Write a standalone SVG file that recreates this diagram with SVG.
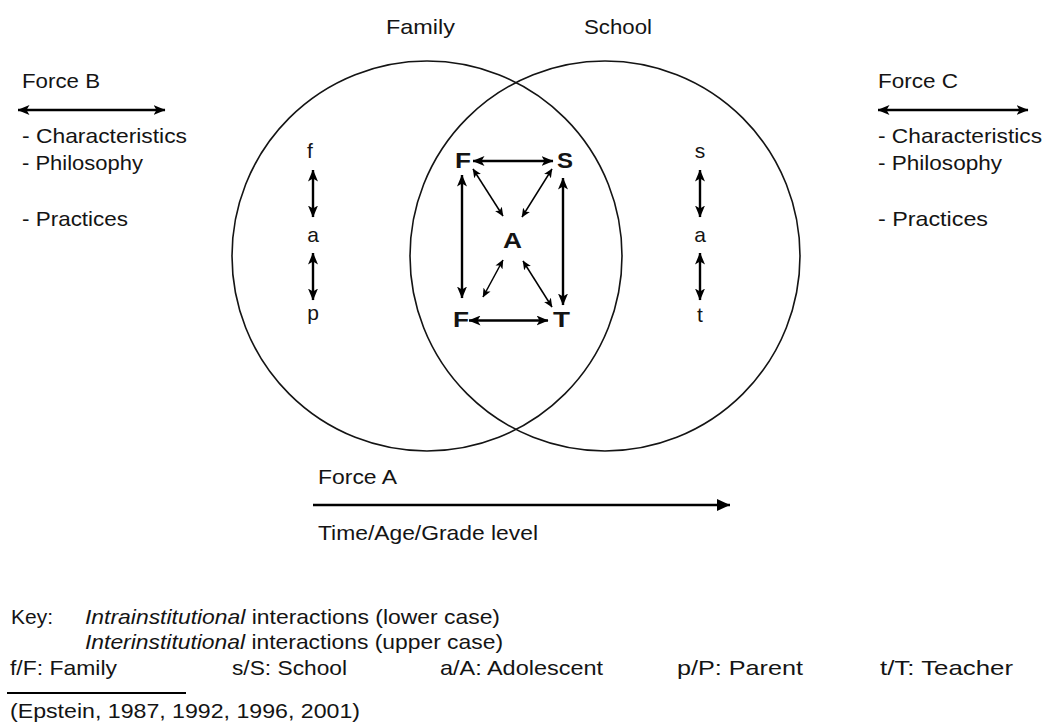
<svg xmlns="http://www.w3.org/2000/svg" width="1047" height="725" viewBox="0 0 1047 725">
<style>
text{font-family:"Liberation Sans",Arial,sans-serif;font-size:21px;fill:#141414}
.b{font-weight:bold;font-size:22px}
.i{font-style:italic}
.ring{fill:none;stroke:#141414;stroke-width:1.6}
.thick{stroke:#000;stroke-width:2.4;fill:none}
.thin{stroke:#000;stroke-width:1.5;fill:none}
</style>
<defs>
<marker id="ah" viewBox="0 0 12 10" refX="11.5" refY="5" markerWidth="12" markerHeight="10" markerUnits="userSpaceOnUse" orient="auto-start-reverse">
<path d="M0,0 L12,5 L0,10 L3,5 z" fill="#000"/>
</marker>
<marker id="as" viewBox="0 0 9 8" refX="8.5" refY="4" markerWidth="9" markerHeight="8" markerUnits="userSpaceOnUse" orient="auto-start-reverse">
<path d="M0,0 L9,4 L0,8 L2.2,4 z" fill="#000"/>
</marker>
<marker id="at" viewBox="0 0 13 12" refX="13" refY="6" markerWidth="13" markerHeight="12" markerUnits="userSpaceOnUse" orient="auto">
<path d="M0,0 L13,6 L0,12 z" fill="#000"/>
</marker>
</defs>

<g id="family-circle">
<circle class="ring" cx="427" cy="256" r="195"/>
<text x="386" y="34" textLength="69" lengthAdjust="spacingAndGlyphs">Family</text>
</g>
<g id="school-circle">
<circle class="ring" cx="605" cy="256" r="195"/>
<text x="584" y="34" textLength="68" lengthAdjust="spacingAndGlyphs">School</text>
</g>

<g id="force-b">
<text x="22" y="88" textLength="78" lengthAdjust="spacingAndGlyphs">Force B</text>
<text x="22" y="143" textLength="165" lengthAdjust="spacingAndGlyphs">- Characteristics</text>
<text x="22" y="170" textLength="121" lengthAdjust="spacingAndGlyphs">- Philosophy</text>
<text x="22" y="226" textLength="106" lengthAdjust="spacingAndGlyphs">- Practices</text>
</g>
<g id="force-c">
<text x="878" y="88" textLength="80" lengthAdjust="spacingAndGlyphs">Force C</text>
<text x="878" y="143" textLength="164" lengthAdjust="spacingAndGlyphs">- Characteristics</text>
<text x="878" y="170" textLength="124" lengthAdjust="spacingAndGlyphs">- Philosophy</text>
<text x="878" y="226" textLength="110" lengthAdjust="spacingAndGlyphs">- Practices</text>
</g>
<g id="force-a">
<text x="318" y="484" textLength="79" lengthAdjust="spacingAndGlyphs">Force A</text>
<text x="318" y="540" textLength="220" lengthAdjust="spacingAndGlyphs">Time/Age/Grade level</text>
</g>

<g id="node-f-lower"><text x="310" y="158" text-anchor="middle">f</text></g>
<g id="node-a-lower-left"><text x="313" y="242" text-anchor="middle">a</text></g>
<g id="node-p-lower"><text x="313" y="320" text-anchor="middle">p</text></g>
<g id="node-s-lower"><text x="700" y="158" text-anchor="middle">s</text></g>
<g id="node-a-lower-right"><text x="700" y="242" text-anchor="middle">a</text></g>
<g id="node-t-lower"><text x="700" y="322" text-anchor="middle">t</text></g>

<g id="node-F-top"><text class="b" x="455" y="168" textLength="16" lengthAdjust="spacingAndGlyphs">F</text></g>
<g id="node-S"><text class="b" x="557" y="168" textLength="16" lengthAdjust="spacingAndGlyphs">S</text></g>
<g id="node-A"><text class="b" x="503" y="248" textLength="19" lengthAdjust="spacingAndGlyphs">A</text></g>
<g id="node-F-bottom"><text class="b" x="453" y="327" textLength="16" lengthAdjust="spacingAndGlyphs">F</text></g>
<g id="node-T"><text class="b" x="553" y="327" textLength="17" lengthAdjust="spacingAndGlyphs">T</text></g>

<g id="connectors">
<line class="thick" x1="18" y1="110" x2="165" y2="110" marker-start="url(#ah)" marker-end="url(#ah)"/>
<line class="thick" x1="878" y1="110" x2="1028" y2="110" marker-start="url(#ah)" marker-end="url(#ah)"/>
<line class="thick" x1="313" y1="505" x2="730" y2="505" marker-end="url(#at)"/>
<line class="thick" x1="313" y1="170" x2="313" y2="217" marker-start="url(#ah)" marker-end="url(#ah)"/>
<line class="thick" x1="313" y1="253" x2="313" y2="300" marker-start="url(#ah)" marker-end="url(#ah)"/>
<line class="thick" x1="700" y1="170" x2="700" y2="217" marker-start="url(#ah)" marker-end="url(#ah)"/>
<line class="thick" x1="700" y1="253" x2="700" y2="300" marker-start="url(#ah)" marker-end="url(#ah)"/>
<line class="thick" x1="473" y1="161" x2="553" y2="161" marker-start="url(#ah)" marker-end="url(#ah)"/>
<line class="thick" x1="469" y1="320.5" x2="548" y2="320.5" marker-start="url(#ah)" marker-end="url(#ah)"/>
<line class="thick" x1="462" y1="175" x2="462" y2="298" marker-start="url(#ah)" marker-end="url(#ah)"/>
<line class="thick" x1="563" y1="178" x2="563" y2="305" marker-start="url(#ah)" marker-end="url(#ah)"/>
<line class="thin" x1="473" y1="169" x2="503" y2="216" marker-start="url(#as)" marker-end="url(#as)"/>
<line class="thin" x1="552" y1="169" x2="522" y2="217" marker-start="url(#as)" marker-end="url(#as)"/>
<line class="thin" x1="503" y1="260" x2="483" y2="297" marker-start="url(#as)" marker-end="url(#as)"/>
<line class="thin" x1="523" y1="261" x2="552" y2="307" marker-start="url(#as)" marker-end="url(#as)"/>
</g>

<g id="key">
<text x="11" y="624" textLength="42" lengthAdjust="spacingAndGlyphs">Key:</text>
<text x="85" y="624" textLength="415" lengthAdjust="spacingAndGlyphs"><tspan class="i">Intrainstitutional</tspan> interactions (lower case)</text>
<text x="85" y="649" textLength="418" lengthAdjust="spacingAndGlyphs"><tspan class="i">Interinstitutional</tspan> interactions (upper case)</text>
<text x="10" y="675" textLength="107" lengthAdjust="spacingAndGlyphs">f/F: Family</text>
<text x="232" y="675" textLength="115" lengthAdjust="spacingAndGlyphs">s/S: School</text>
<text x="440" y="675" textLength="163" lengthAdjust="spacingAndGlyphs">a/A: Adolescent</text>
<text x="677" y="675" textLength="126" lengthAdjust="spacingAndGlyphs">p/P: Parent</text>
<text x="880" y="675" textLength="133" lengthAdjust="spacingAndGlyphs">t/T: Teacher</text>
<line x1="7" y1="693" x2="186" y2="693" stroke="#000" stroke-width="2"/>
<text x="10" y="718" textLength="350" lengthAdjust="spacingAndGlyphs">(Epstein, 1987, 1992, 1996, 2001)</text>
</g>
</svg>
